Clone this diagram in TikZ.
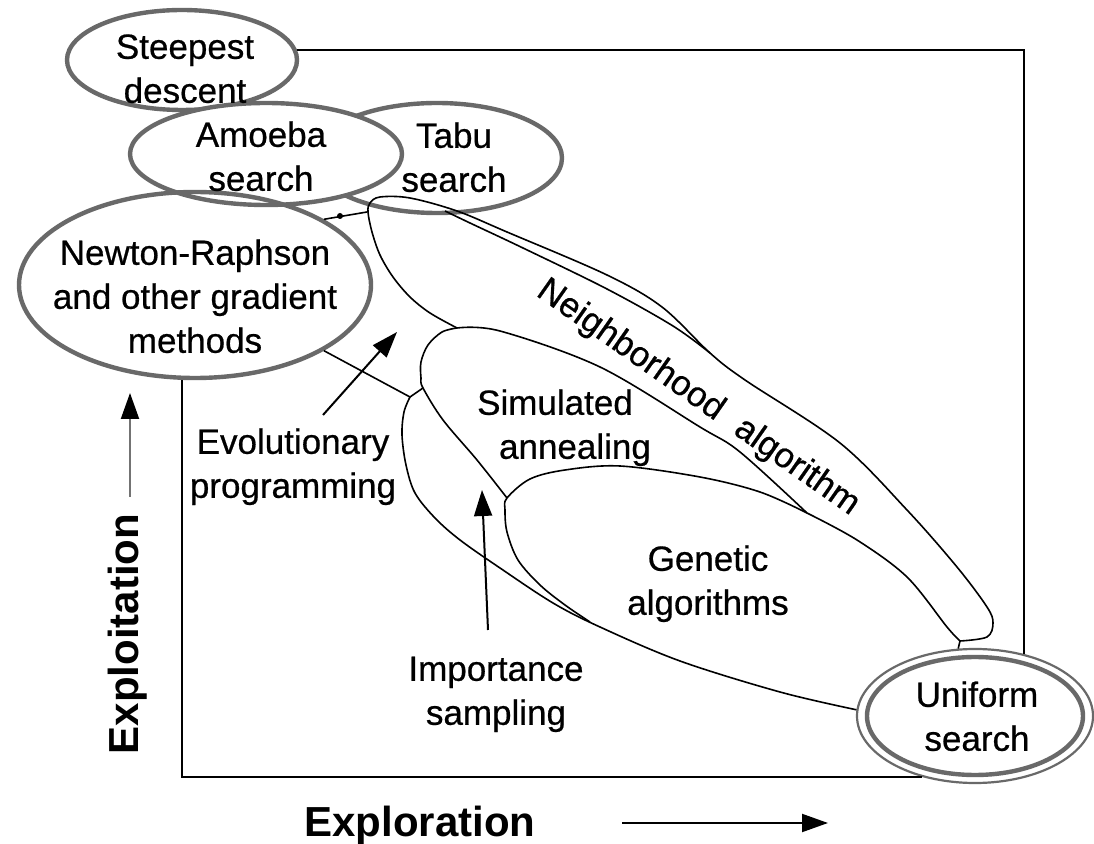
\documentclass[tikz,border=0pt]{standalone}
\usepackage{fontspec}
\setmainfont{Liberation Sans}
\newfontfamily\lblfont[FakeBold=0.6]{Liberation Sans}
\usetikzlibrary{shapes.geometric,arrows.meta}
\definecolor{ellgray}{RGB}{105,105,105}
\begin{document}
\begin{tikzpicture}[x=0.5pt,y=-0.5pt,
  fat/.style={ellipse, draw=ellgray, line width=2.2pt, inner sep=0pt},
  thinline/.style={draw=black, line width=0.8pt},
  lbl/.style={font=\lblfont\fontsize{17.5}{22}\selectfont, align=center, inner sep=0pt},
  biglbl/.style={font=\fontsize{21}{25}\selectfont\bfseries, inner sep=0pt},
  framel/.style={draw=black, line width=1pt},
  arr/.style={draw=black, line width=1pt, -{Triangle[length=13pt,width=9pt,color=black]}}
]
\useasboundingbox (0,0) rectangle (1094,844);
\fill[white] (0,0) rectangle (1094,844);

% thick grey ellipses
\node[fat, minimum width=115pt, minimum height=50pt] (steep) at (182,60) {};
\node[fat, minimum width=125pt, minimum height=55pt] (tabu) at (437,158) {};
\node[fat, fill=white, minimum width=136pt, minimum height=51pt] (amoeba) at (266,154) {};
\node[fat, minimum width=176pt, minimum height=93pt] (newton) at (195,285) {};
\node[ellipse, draw=ellgray, line width=1.1pt, inner sep=0pt, minimum width=118pt, minimum height=67pt] (uni) at (975,716) {};
\draw[ellgray, line width=2.2pt] (uni.center) ellipse [x radius=54pt, y radius=29.5pt];

% frame
\draw[framel] (steep.5) -| (uni.52);
\draw[framel] (uni.229) -| (newton.262);

% junction coordinates
\coordinate (J1) at (457,328);
\coordinate (J2) at (807,513);
\coordinate (J3) at (507,498);
\coordinate (J4) at (410,397);
\coordinate (J5) at (960,641);
\coordinate (J6) at (710,353);
\coordinate (J7) at (423,388);
\coordinate (J8) at (367,212);

% thin outlines
\draw[thinline] plot[smooth, tension=0.55] coordinates {(J1) (430,313) (410,297) (393,277) (380,255) (372,232) (368,212) (370,203) (380,197) (410,198) (457,211) (507,232) (607,275) (662,307) (J6) (745,380) (840,443) (907,510) (957,567) (987,607) (993,623) (987,637) (J5)};
\draw[thinline] plot[smooth, tension=0.55] coordinates {(J5) (947,627) (907,577) (857,540) (J2)};
\draw[thinline] plot[smooth, tension=0.55] coordinates {(445,211) (470,223) (523,248) (607,289) (673,326) (J6)};
\draw[thinline] plot[smooth, tension=0.55] coordinates {(J1) (500,331) (600,367) (700,427) (740,452) (J2)};
\draw[thinline] plot[smooth, tension=0.55] coordinates {(J1) (442,332) (428,345) (421,362) (421,378) (J7) (443,420) (477,460) (J3)};
\draw[thinline] (newton.-27) -- (J4) -- (J7);
\draw[thinline] plot[smooth, tension=0.55] coordinates {(J4) (404,412) (402,435) (406,465) (415,493) (435,518) (460,540) (500,568) (553,603) (600,627) (680,661) (780,692) (uni.177)};
\draw[thinline] plot[smooth, tension=0.55] coordinates {(590,622) (565,605) (540,585) (518,560) (507,532) (505,510) (J3) (530,479) (565,470) (620,466) (700,477) (760,492) (J2)};
\draw[thinline] (J5) -- (uni.104);
\draw[thinline] (newton.27) -- (J8);
\fill (340,216) circle[radius=1.5pt];

% arrows
\coordinate (epTail) at (323,415);
\coordinate (epTip) at (397,332);
\coordinate (isTail) at (488,630);
\coordinate (isTip) at (482,490);
\coordinate (yTail) at (130,497);
\coordinate (yTip) at (130,393);
\coordinate (xTail) at (622,823);
\coordinate (xTip) at (828,823);
\draw[arr] (epTail) -- (epTip);
\draw[arr] (isTail) -- (isTip);
\draw[arr, draw=black!55] (yTail) -- (yTip);
\draw[arr] (xTail) -- (xTip);

% labels
\node[lbl] (steepT) at (185,72) {\strut Steepest\\\strut descent};
\node[lbl] (amoebaT) at (261,160) {\strut Amoeba\\\strut search};
\node[lbl] (tabuT) at (454,161) {\strut Tabu\\\strut search};
\node[lbl] (newtonT) at (195,300) {\strut Newton-Raphson\\\strut and other gradient\\\strut methods};
\node[lbl] (saT) at (565,428) {\strut Simulated\hspace*{10pt}\\\strut\hspace*{10pt}annealing};
\node[lbl] (gaT) at (708,584) {\strut Genetic\\\strut algorithms};
\node[lbl] (epT) at (293,467) {\strut Evolutionary\\\strut programming};
\node[lbl] (isT) at (496,694) {\strut Importance\\\strut sampling};
\node[lbl] (uniT) at (977,720) {\strut Uniform\\\strut search};
\node[lbl, rotate=-35] (naT) at (698,398) {Neighborhood\hspace{0.6em}algorithm};
\node[biglbl, rotate=90] (yT) at (128,634) {Exploitation};
\node[biglbl] (xT) at (420,826) {Exploration};
\end{tikzpicture}
\end{document}
